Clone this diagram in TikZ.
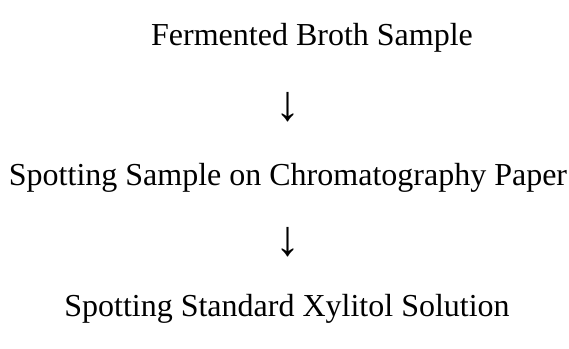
\documentclass[tikz,border=0pt]{standalone}
\usepackage{fontspec}
\setmainfont{Liberation Serif}
\tikzset{
	steptext/.style={font=\fontsize{32}{38}\selectfont, anchor=base},
	arrowtext/.style={font=\fontsize{50}{58}\selectfont, inner sep=0pt}
}
\begin{document}
\begin{tikzpicture}[x=1pt,y=1pt]
	\useasboundingbox (0,0) rectangle (569,348);
	\node[steptext] (broth) at (312,302) {Fermented Broth Sample};
	\node[arrowtext] (down1) at (288,241) {↓};
	\node[steptext] (spot) at (288,162) {Spotting Sample on Chromatography Paper};
	\node[arrowtext] (down2) at (288,106) {↓};
	\node[steptext] (xyl) at (287,32) {Spotting Standard Xylitol Solution};
\end{tikzpicture}
\end{document}
